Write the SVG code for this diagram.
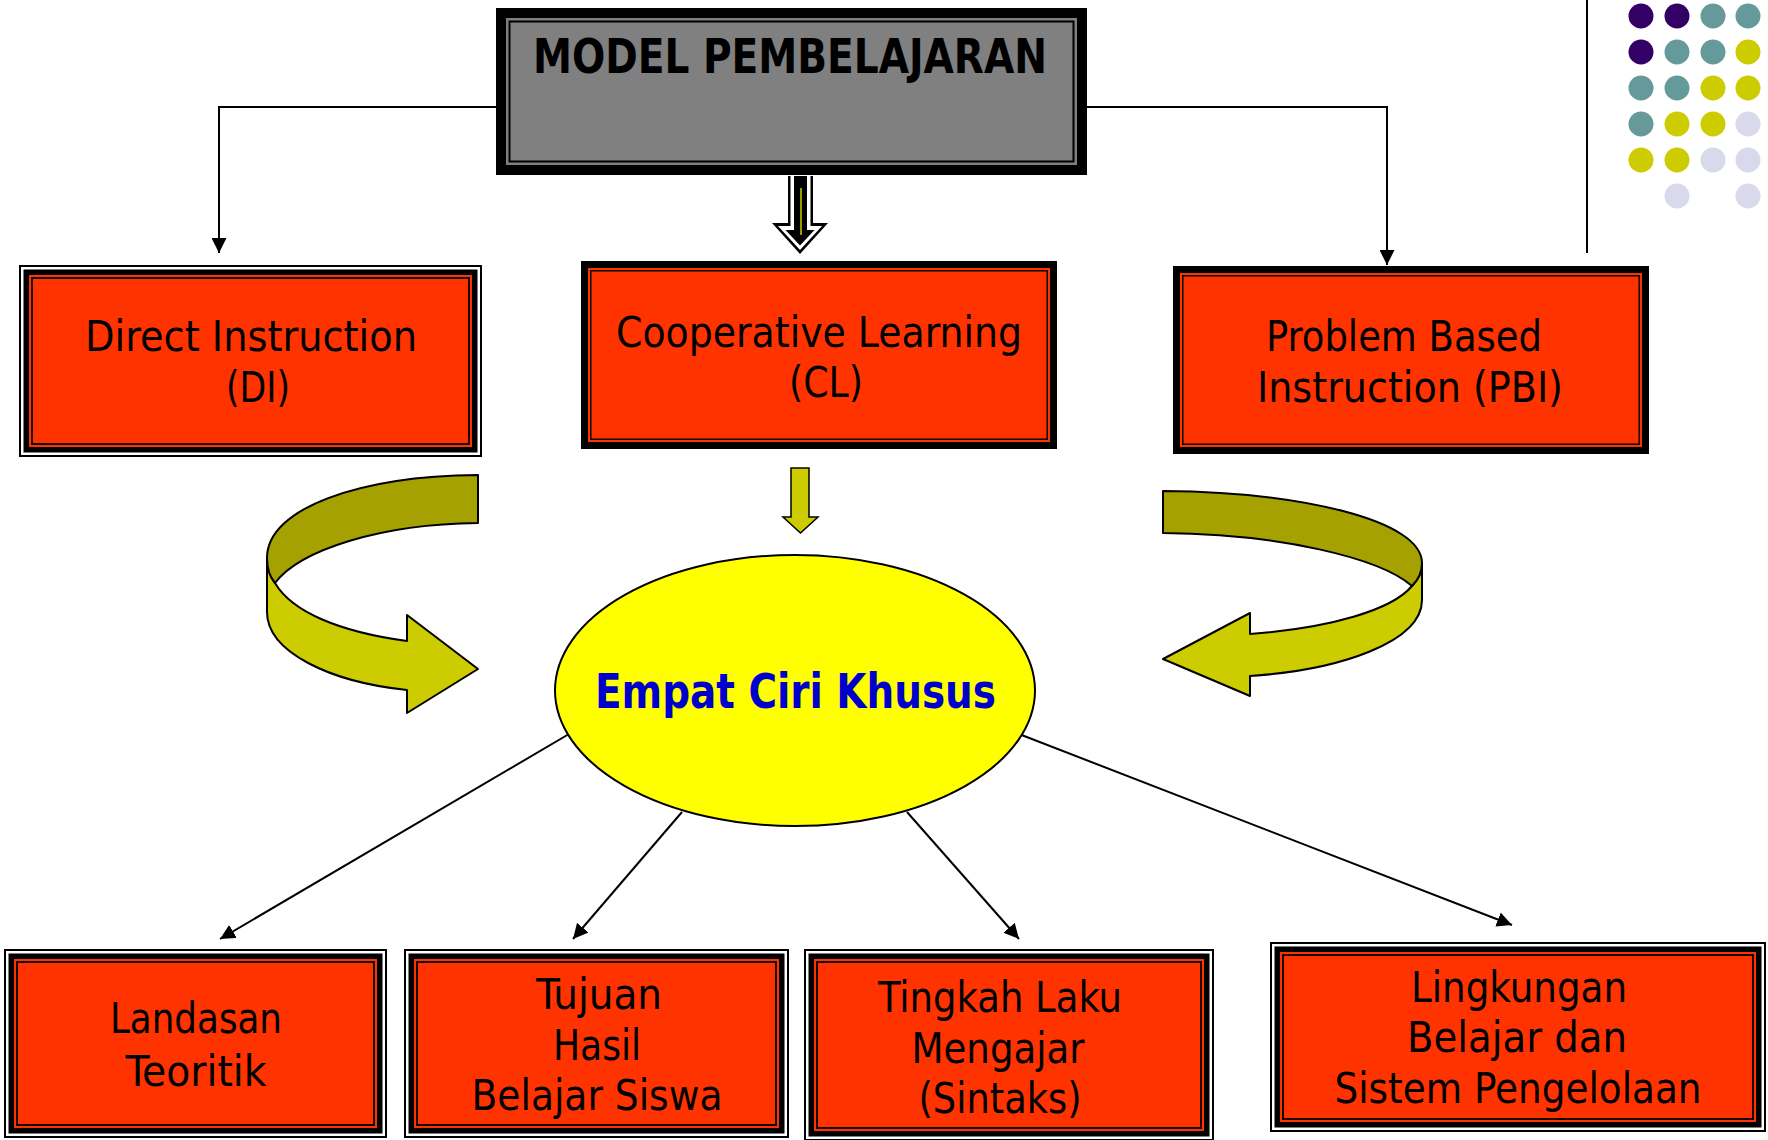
<svg xmlns="http://www.w3.org/2000/svg" width="1768" height="1140" viewBox="0 0 1768 1140">
<style>
.lbl{font-family:"DejaVu Sans Condensed","DejaVu Sans",sans-serif;font-size:42px;fill:#000;text-anchor:middle}
.bold{font-family:"DejaVu Sans Condensed","DejaVu Sans",sans-serif;font-size:48px;font-weight:bold;text-anchor:middle}
.k{fill:#000}
.w{fill:#fff}
.o{fill:#FF3300}
.oi{fill:#FF3300;stroke:#000;stroke-width:1.8}
.con{fill:none;stroke:#000;stroke-width:2}
.dark{fill:#A5A100;stroke:#000;stroke-width:2;stroke-linejoin:round}
.light{fill:#CCCC00;stroke:#000;stroke-width:2;stroke-linejoin:round}
</style>
<defs>
<marker id="ah" viewBox="0 0 10 10" refX="10" refY="5" markerWidth="15" markerHeight="15" markerUnits="userSpaceOnUse" orient="auto">
<path d="M0,0 L10,5 L0,10 Z" fill="#000"/>
</marker>
</defs>
<rect width="1768" height="1140" fill="#fff"/>

<g id="dots">
<circle cx="1641" cy="16" r="12.5" fill="#330066"/>
<circle cx="1677" cy="16" r="12.5" fill="#330066"/>
<circle cx="1713" cy="16" r="12.5" fill="#669999"/>
<circle cx="1748" cy="16" r="12.5" fill="#669999"/>
<circle cx="1641" cy="52" r="12.5" fill="#330066"/>
<circle cx="1677" cy="52" r="12.5" fill="#669999"/>
<circle cx="1713" cy="52" r="12.5" fill="#669999"/>
<circle cx="1748" cy="52" r="12.5" fill="#CCCC00"/>
<circle cx="1641" cy="88" r="12.5" fill="#669999"/>
<circle cx="1677" cy="88" r="12.5" fill="#669999"/>
<circle cx="1713" cy="88" r="12.5" fill="#CCCC00"/>
<circle cx="1748" cy="88" r="12.5" fill="#CCCC00"/>
<circle cx="1641" cy="124" r="12.5" fill="#669999"/>
<circle cx="1677" cy="124" r="12.5" fill="#CCCC00"/>
<circle cx="1713" cy="124" r="12.5" fill="#CCCC00"/>
<circle cx="1748" cy="124" r="12.5" fill="#D9D9EC"/>
<circle cx="1641" cy="160" r="12.5" fill="#CCCC00"/>
<circle cx="1677" cy="160" r="12.5" fill="#CCCC00"/>
<circle cx="1713" cy="160" r="12.5" fill="#D9D9EC"/>
<circle cx="1748" cy="160" r="12.5" fill="#D9D9EC"/>
<circle cx="1677" cy="196" r="12.5" fill="#D9D9EC"/>
<circle cx="1748" cy="196" r="12.5" fill="#D9D9EC"/>
<line x1="1587" y1="0" x2="1587" y2="253" stroke="#000" stroke-width="2"/>
</g>

<g id="connectors">
<path class="con" d="M496,107 H219 V253" marker-end="url(#ah)"/>
<path class="con" d="M1087,107 H1387 V265" marker-end="url(#ah)"/>
<path class="con" d="M569,734 L220,939" marker-end="url(#ah)"/>
<path class="con" d="M682,812 L573,939" marker-end="url(#ah)"/>
<path class="con" d="M907,812 L1019,939" marker-end="url(#ah)"/>
<path class="con" d="M1019,734 L1512,925" marker-end="url(#ah)"/>
<g id="arrow-main">
<path d="M788,176 H813 V223 H828 L800,254 L772,223 H788 Z" fill="#000"/>
<path d="M790.5,176 H810.5 V226 H822 L800,250 L778,226 H790.5 Z" fill="#fff"/>
<path d="M794,176 H807 V230 H814.5 L800,245.5 L785.5,230 H794 Z" fill="#000"/>
<line x1="801" y1="188" x2="801" y2="235" stroke="#CCCC00" stroke-width="1.5"/>
</g>
<path id="arrow-cl" d="M791,468 H809 V517 H818 L800.5,533 L783,517 H791 Z" fill="#CCCC00" stroke="#000" stroke-width="1.5"/>
<g id="curve-left">
<path class="light" d="M267,558 L267,612 C267,652 330,682 407,690 L407,713 L478,669 L407,615 L407,641 C340,632 292,612 275,583 C270,577 267,568 267,558 Z"/>
<path class="dark" d="M478,475 C360,476 267,508 267,558 C267,568 270,577 275,583 C300,550 380,524 478,523 Z"/>
</g>
<g id="curve-right">
<path class="light" d="M1422,563 L1422,600 C1422,642 1340,670 1250,676 L1250,696 L1163,659 L1250,613 L1250,634 C1330,628 1392,610 1412,586 C1418,580 1422,572 1422,563 Z"/>
<path class="dark" d="M1163,491 C1300,492 1422,520 1422,563 C1422,572 1418,580 1412,586 C1380,558 1280,534 1163,533 Z"/>
</g>
</g>

<g id="node-model">
<rect x="496" y="8" width="591" height="167" class="k"/>
<rect x="506" y="18" width="571" height="147" fill="#808080"/>
<rect x="509.5" y="21.5" width="564" height="140" fill="#808080" stroke="#000" stroke-width="2"/>
<text class="bold" x="790" y="73" textLength="514" lengthAdjust="spacingAndGlyphs">MODEL PEMBELAJARAN</text>
</g>

<g id="node-di">
<rect x="19" y="265" width="463" height="192" class="k"/>
<rect x="21" y="267" width="459" height="188" class="w"/>
<rect x="23.5" y="269.5" width="454" height="183" class="k"/>
<rect x="29" y="275" width="443" height="172" class="o"/>
<rect x="32" y="278" width="437" height="166" class="oi"/>
<text class="lbl" x="251" y="351" textLength="332" lengthAdjust="spacingAndGlyphs">Direct Instruction</text>
<text class="lbl" x="258" y="402" textLength="64" lengthAdjust="spacingAndGlyphs">(DI)</text>
</g>

<g id="node-cl">
<rect x="581" y="261" width="476" height="188" class="k"/>
<rect x="588" y="268" width="462" height="174" class="o"/>
<rect x="590.75" y="270.75" width="456.5" height="168.5" fill="#FF3300" stroke="#000" stroke-width="1.5"/>
<text class="lbl" x="819" y="347" textLength="406" lengthAdjust="spacingAndGlyphs">Cooperative Learning</text>
<text class="lbl" x="826" y="397" textLength="74" lengthAdjust="spacingAndGlyphs">(CL)</text>
</g>

<g id="node-pbi">
<rect x="1173" y="266" width="476" height="188" class="k"/>
<rect x="1180" y="273" width="462" height="174" class="o"/>
<rect x="1182.75" y="275.75" width="456.5" height="168.5" fill="#FF3300" stroke="#000" stroke-width="1.5"/>
<text class="lbl" x="1404" y="351" textLength="276" lengthAdjust="spacingAndGlyphs">Problem Based</text>
<text class="lbl" x="1410" y="402" textLength="306" lengthAdjust="spacingAndGlyphs">Instruction (PBI)</text>
</g>

<g id="node-empat">
<ellipse cx="795" cy="690.5" rx="240" ry="135.5" fill="#FFFF00" stroke="#000" stroke-width="2"/>
<text class="bold" x="795.5" y="708" fill="#0000CC" textLength="401" lengthAdjust="spacingAndGlyphs">Empat Ciri Khusus</text>
</g>

<g id="node-landasan">
<rect x="4" y="949" width="383" height="189" class="k"/>
<rect x="6" y="951" width="379" height="185" class="w"/>
<rect x="8.5" y="953.5" width="374" height="180" class="k"/>
<rect x="14" y="959" width="363" height="169" class="o"/>
<rect x="17" y="962" width="357" height="163" class="oi"/>
<text class="lbl" x="196" y="1033" textLength="172" lengthAdjust="spacingAndGlyphs">Landasan</text>
<text class="lbl" x="196" y="1086" textLength="141" lengthAdjust="spacingAndGlyphs">Teoritik</text>
</g>

<g id="node-tujuan">
<rect x="404" y="949" width="385" height="189" class="k"/>
<rect x="406" y="951" width="381" height="185" class="w"/>
<rect x="408.5" y="953.5" width="376" height="180" class="k"/>
<rect x="414" y="959" width="365" height="169" class="o"/>
<rect x="417" y="962" width="359" height="163" class="oi"/>
<text class="lbl" x="599" y="1009" textLength="126" lengthAdjust="spacingAndGlyphs">Tujuan</text>
<text class="lbl" x="597" y="1060" textLength="88" lengthAdjust="spacingAndGlyphs">Hasil</text>
<text class="lbl" x="597" y="1110" textLength="251" lengthAdjust="spacingAndGlyphs">Belajar Siswa</text>
</g>

<g id="node-tingkah">
<rect x="804" y="949" width="410" height="192" class="k"/>
<rect x="806" y="951" width="406" height="188" class="w"/>
<rect x="808.5" y="953.5" width="401" height="183" class="k"/>
<rect x="814" y="959" width="390" height="172" class="o"/>
<rect x="817" y="962" width="384" height="166" class="oi"/>
<text class="lbl" x="1000" y="1012" textLength="244" lengthAdjust="spacingAndGlyphs">Tingkah Laku</text>
<text class="lbl" x="998" y="1063" textLength="173" lengthAdjust="spacingAndGlyphs">Mengajar</text>
<text class="lbl" x="1000" y="1113" textLength="163" lengthAdjust="spacingAndGlyphs">(Sintaks)</text>
</g>

<g id="node-lingkungan">
<rect x="1270" y="942" width="496" height="190" class="k"/>
<rect x="1272" y="944" width="492" height="186" class="w"/>
<rect x="1274.5" y="946.5" width="487" height="181" class="k"/>
<rect x="1280" y="952" width="476" height="170" class="o"/>
<rect x="1283" y="955" width="470" height="164" class="oi"/>
<text class="lbl" x="1519" y="1002" textLength="216" lengthAdjust="spacingAndGlyphs">Lingkungan</text>
<text class="lbl" x="1517" y="1052" textLength="220" lengthAdjust="spacingAndGlyphs">Belajar dan</text>
<text class="lbl" x="1518" y="1103" textLength="367" lengthAdjust="spacingAndGlyphs">Sistem Pengelolaan</text>
</g>
</svg>
